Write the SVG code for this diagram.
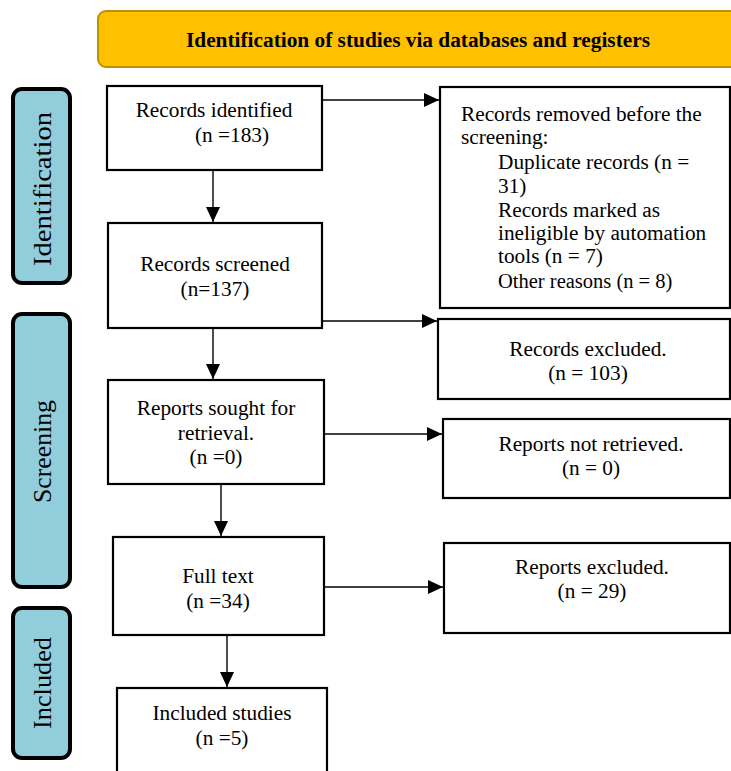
<svg xmlns="http://www.w3.org/2000/svg" width="731" height="771" viewBox="0 0 731 771">
<defs>
<style>
.box{fill:#fff;stroke:#000;stroke-width:2.2}
.side{fill:#92CDDC;stroke:#000;stroke-width:4}
.t{font-family:"Liberation Serif","Times New Roman",serif;font-size:21.3px;fill:#000}
.c{text-anchor:middle}
.h{font-family:"Liberation Serif","Times New Roman",serif;font-size:21.3px;font-weight:bold;fill:#000;text-anchor:middle}
.s{font-family:"Liberation Serif","Times New Roman",serif;font-size:25px;fill:#000;text-anchor:middle}
.sm{font-size:20.5px}
.ln{stroke:#000;stroke-width:1.4;fill:none}
</style>
<marker id="ah2" viewBox="0 0 15 14" refX="15" refY="7" markerWidth="15" markerHeight="14" markerUnits="userSpaceOnUse" orient="auto">
<path d="M0,0 L15,7 L0,14 Z" fill="#000"/>
</marker>
</defs>
<rect width="731" height="771" fill="#fff"/>

<g id="header">
<rect x="98" y="11" width="645" height="56" rx="8" fill="#FFC000" stroke="#BF9000" stroke-width="2"/>
<text x="418" y="47" class="h" textLength="464" lengthAdjust="spacingAndGlyphs">Identification of studies via databases and registers</text>
</g>

<g id="side-identification">
<rect x="13" y="89" width="57" height="194" rx="9" class="side"/>
<text class="s" transform="translate(51,189) rotate(-90)" textLength="154" lengthAdjust="spacingAndGlyphs">Identification</text>
</g>
<g id="side-screening">
<rect x="13" y="314" width="57" height="273" rx="9" class="side"/>
<text class="s" transform="translate(51,451.5) rotate(-90)" textLength="103" lengthAdjust="spacingAndGlyphs">Screening</text>
</g>
<g id="side-included">
<rect x="13" y="608" width="57" height="150" rx="9" class="side"/>
<text class="s" transform="translate(51,683) rotate(-90)" textLength="92" lengthAdjust="spacingAndGlyphs">Included</text>
</g>

<g id="records-identified">
<rect x="107" y="86" width="215" height="84" class="box"/>
<text x="214" y="117" class="t c">Records identified</text>
<text x="195" y="142" class="t">(n =183)</text>
</g>

<g id="records-removed">
<rect x="440" y="87" width="290" height="221" class="box"/>
<text x="461" y="121" class="t">Records removed before the</text>
<text x="461" y="144" class="t">screening:</text>
<text x="498" y="169" class="t">Duplicate records (n =</text>
<text x="498" y="193" class="t">31)</text>
<text x="498" y="217" class="t">Records marked as</text>
<text x="498" y="240" class="t">ineligible by automation</text>
<text x="498" y="263" class="t">tools (n = 7)</text>
<text x="498" y="288" class="t sm">Other reasons (n = 8)</text>
</g>

<g id="records-screened">
<rect x="108" y="223" width="214" height="105" class="box"/>
<text x="215" y="271" class="t c">Records screened</text>
<text x="215" y="296" class="t c">(n=137)</text>
</g>

<g id="records-excluded">
<rect x="438" y="319" width="292" height="80" class="box"/>
<text x="588" y="356" class="t c">Records excluded.</text>
<text x="588" y="380" class="t c">(n = 103)</text>
</g>

<g id="reports-sought">
<rect x="108" y="380" width="216" height="104" class="box"/>
<text x="216" y="415" class="t c">Reports sought for</text>
<text x="216" y="440" class="t c">retrieval.</text>
<text x="216" y="464" class="t c">(n =0)</text>
</g>

<g id="reports-not-retrieved">
<rect x="443" y="419" width="287" height="79" class="box"/>
<text x="591" y="451" class="t c">Reports not retrieved.</text>
<text x="591" y="475" class="t c">(n = 0)</text>
</g>

<g id="full-text">
<rect x="113" y="537" width="211" height="98" class="box"/>
<text x="218" y="583" class="t c">Full text</text>
<text x="218" y="608" class="t c">(n =34)</text>
</g>

<g id="reports-excluded">
<rect x="444" y="543" width="286" height="90" class="box"/>
<text x="592" y="574" class="t c">Reports excluded.</text>
<text x="592" y="598" class="t c">(n = 29)</text>
</g>

<g id="included-studies">
<rect x="117" y="688" width="210" height="100" class="box"/>
<text x="222" y="720" class="t c">Included studies</text>
<text x="222" y="745" class="t c">(n =5)</text>
</g>

<g id="connectors">
<line x1="213" y1="171" x2="213" y2="222" class="ln" marker-end="url(#ah2)"/>
<line x1="322" y1="100" x2="439" y2="100" class="ln" marker-end="url(#ah2)"/>
<line x1="322" y1="321" x2="437" y2="321" class="ln" marker-end="url(#ah2)"/>
<line x1="213" y1="329" x2="213" y2="379" class="ln" marker-end="url(#ah2)"/>
<line x1="324" y1="434" x2="442" y2="434" class="ln" marker-end="url(#ah2)"/>
<line x1="221" y1="485" x2="221" y2="536" class="ln" marker-end="url(#ah2)"/>
<line x1="324" y1="587" x2="443" y2="587" class="ln" marker-end="url(#ah2)"/>
<line x1="227" y1="636" x2="227" y2="687" class="ln" marker-end="url(#ah2)"/>
</g>
</svg>
